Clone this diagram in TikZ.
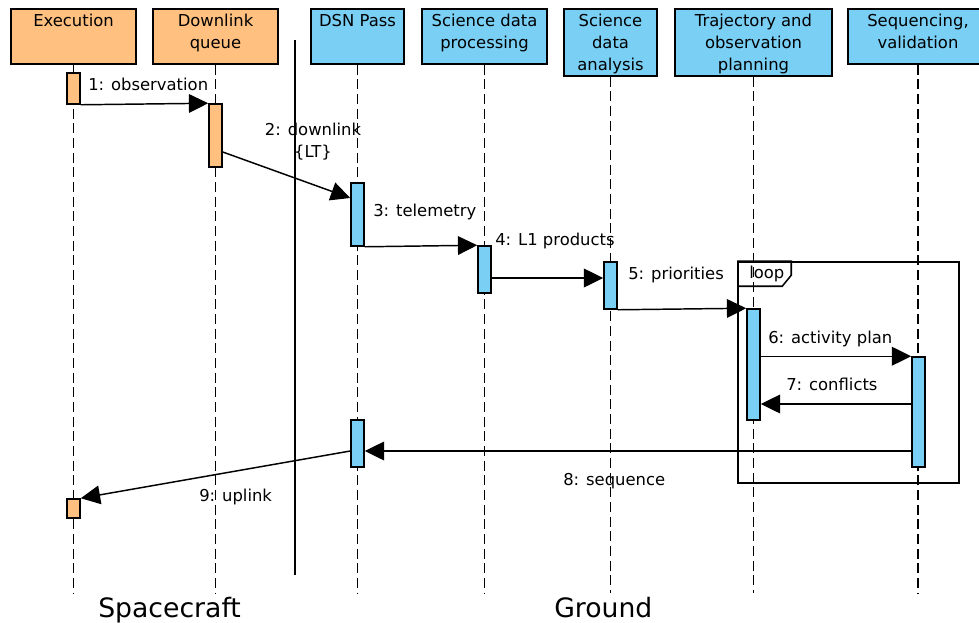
\documentclass[tikz,border=0pt]{standalone}
\usepackage{fontspec}
\setmainfont{DejaVu Sans}
\usepackage{tikz}
\usetikzlibrary{arrows.meta, calc, fit, positioning}
\definecolor{craftorange}{RGB}{255,192,128}
\definecolor{groundblue}{RGB}{122,207,245}

\begin{document}
\begin{tikzpicture}[
		x=0.75pt, y=-0.75pt,
		texts/.style = {text=black, font=\fontsize{12.3pt}{16.5pt}\selectfont},
		headtext/.style = {texts, align=center, anchor=north, inner sep=4pt},
		headbox/.style = {draw=black, line width=1.15pt, inner sep=0pt},
		craftbox/.style = {headbox, fill=craftorange},
		groundbox/.style = {headbox, fill=groundblue},
		craftbar/.style = {headbox, fill=craftorange},
		groundbar/.style = {headbox, fill=groundblue},
		lifeline/.style = {draw=black, line width=1.15pt, dash pattern=on 7.5pt off 3.5pt},
		msgline/.style = {draw=black, line width=1.1pt, -{Triangle[length=14.5pt, width=14pt]}},
		msglabel/.style = {texts, anchor=base west, inner sep=0pt},
		frameline/.style = {draw=black, line width=1.15pt},
		sidetext/.style = {text=black, font=\fontsize{20pt}{24pt}\selectfont, anchor=base west, inner sep=0pt}
		]
		\useasboundingbox (0,0) rectangle (979,622);
		\clip (0,0) rectangle (979,622);
		
		% lifeline heads
		\node [craftbox, fit={(11,9) (136,64)}] (exebox) {};
		\node [craftbox, fit={(153,9) (278,64)}] (dlqbox) {};
		\node [groundbox, fit={(311,9) (404,64)}] (dsnbox) {};
		\node [groundbox, fit={(422,9) (547,64)}] (sdpbox) {};
		\node [groundbox, fit={(564,9) (657,76)}] (sdabox) {};
		\node [groundbox, fit={(675,9) (832,76)}] (topbox) {};
		\node [groundbox, fit={(848,9) (988,64)}] (seqbox) {};
		
		\node [headtext, below = 0pt of exebox.north] (exetext) {Execution};
		\node [headtext, below = 0pt of dlqbox.north] (dlqtext) {Downlink\\queue};
		\node [headtext, below = 0pt of dsnbox.north] (dsntext) {DSN Pass};
		\node [headtext, below = 0pt of sdpbox.north] (sdptext) {Science data\\processing};
		\node [headtext, below = 0pt of sdabox.north] (sdatext) {Science\\data\\analysis};
		\node [headtext, below = 0pt of topbox.north] (toptext) {Trajectory and\\observation\\planning};
		\node [headtext, below = 0pt of seqbox.north] (seqtext) {Sequencing,\\validation};
		
		% lifelines
		\draw[lifeline] (exebox.south) -- (exebox.south |- 0,593);
		\draw[lifeline] (dlqbox.south) -- (dlqbox.south |- 0,593);
		\draw[lifeline] (dsnbox.south) -- (dsnbox.south |- 0,593);
		\draw[lifeline] (sdpbox.south) -- (sdpbox.south |- 0,593);
		\draw[lifeline] (sdabox.south) -- (sdabox.south |- 0,593);
		\draw[lifeline] (topbox.south) -- (topbox.south |- 0,593);
		\draw[lifeline] (seqbox.south) -- (seqbox.south |- 0,593);
		
		% spacecraft / ground split
		\draw[line width=1.8pt] (295,40) -- (295,575);
		
		% loop frame
		\node [frameline, inner sep=0pt, fit={(738,262) (959,483)}] (loopframe) {};
		\draw[frameline] (loopframe.north west) -- ++(54,0) -- ++(0,14) -- ++(-9,11) -- ++(-45,0);
		\node [msglabel] (looptext) at (749,278) {loop};
		
		% activations
		\node [craftbar, fit={(67,73) (80,104)}] (exe1) {};
		\node [craftbar, fit={(67,499) (80,518)}] (exe2) {};
		\node [craftbar, fit={(209,104) (222,167)}] (dlq1) {};
		\node [groundbar, fit={(351,183) (364,246)}] (dsn1) {};
		\node [groundbar, fit={(351,420) (364,467)}] (dsn2) {};
		\node [groundbar, fit={(478,246) (491,293)}] (sdp1) {};
		\node [groundbar, fit={(604,262) (617,309)}] (sda1) {};
		\node [groundbar, fit={(747,309) (760,420)}] (top1) {};
		\node [groundbar, fit={(912,357) (925,467)}] (seq1) {};
		
		% messages
		\draw[msgline] (exe1.south east) -- (dlq1.north west);
		\draw[msgline] (dlq1.east |- 0,152) -- (dsn1.west |- 0,198);
		\draw[msgline] (dsn1.south east) -- (sdp1.north west);
		\draw[msgline] (sdp1.east |- 0,278) -- (sda1.west |- 0,278);
		\draw[msgline] (sda1.south east) -- (top1.north west);
		\draw[msgline] (top1.east |- seq1.north) -- (seq1.north west);
		\draw[msgline] (seq1.west |- 0,404) -- (top1.east |- 0,404);
		\draw[msgline] (seq1.west |- 0,451) -- (dsn2.east |- 0,451);
		\draw[msgline] (dsn2.west |- 0,451) -- (exe2.north east);
		
		\node [msglabel] (obslabel) at (88,90) {1: observation};
		\node [texts, align=center, anchor=north, inner sep=0pt] (dnlabel) at (313,123) {2: downlink\\\{LT\}};
		\node [msglabel] (tellabel) at (373,216) {3: telemetry};
		\node [msglabel] (prodlabel) at (495,245) {4: L1 products};
		\node [msglabel] (priolabel) at (628,279) {5: priorities};
		\node [msglabel] (planlabel) at (768,343) {6: activity plan};
		\node [msglabel] (conflabel) at (786,390) {7: conflicts};
		\node [msglabel] (seqlabel) at (563,485) {8: sequence};
		\node [msglabel] (uplabel) at (199,501) {9: uplink};
		
		\node [sidetext] (craftlabel) at (98,617) {Spacecraft};
		\node [sidetext] (groundlabel) at (554,617) {Ground};
		
		\end{tikzpicture}
\end{document}
